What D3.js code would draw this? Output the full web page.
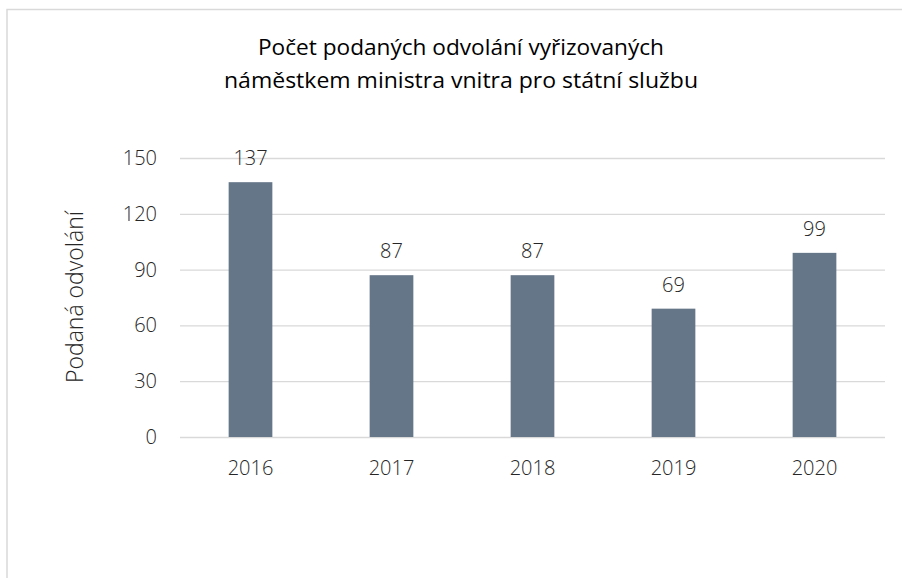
<!DOCTYPE html>
<html>
<head>
<meta charset="utf-8">
<script src="https://cdn.jsdelivr.net/npm/d3@7"></script>
<style>
  body { margin: 0; background: #fff; }
  svg text { font-family: "Open Sans", "Noto Sans", sans-serif; }
</style>
</head>
<body>
<svg id="chart" width="902" height="578"></svg>
<script>
const years = ["2016", "2017", "2018", "2019", "2020"]
const appeals = [137, 87, 87, 69, 99]
const yTicks = [0, 30, 60, 90, 120, 150]
const titleLines = ["Počet podaných odvolání vyřizovaných", "náměstkem ministra vnitra pro státní službu"]
const yLabel = "Podaná odvolání"

const width = 902, height = 578
const margin = { left: 180, right: 17, top: 158, bottom: 141 }
const barColor = "rgb(101,118,136)"
const gridColor = "#d9d9d9"
const textColor = "#262626"

const svg = d3.select("#chart")

// outer chart frame
svg.append("rect")
    .attr("x", 7).attr("y", 9.5)
    .attr("width", 910).attr("height", 600)
    .attr("fill", "none")
    .attr("stroke", "#d9d9d9")
    .attr("stroke-width", 1.5)

// title
svg.append("g").selectAll("text")
    .data(titleLines)
    .enter()
    .append("text")
    .attr("x", 461)
    .attr("y", (d, i) => 55 + i * 33)
    .attr("text-anchor", "middle")
    .attr("font-size", 22)
    .attr("font-weight", 400)
    .attr("textLength", (d, i) => i === 0 ? 406 : 474)
    .attr("lengthAdjust", "spacingAndGlyphs")
    .attr("fill", "#000")
    .text(d => d)

const x = d3.scaleBand()
    .domain(years)
    .range([margin.left, width - margin.right])

const y = d3.scaleLinear()
    .domain([0, 150])
    .range([height - margin.bottom, margin.top])

// gridlines
const yAxis = d3.axisLeft(y)
    .tickValues(yTicks)
    .tickSize(-(width - margin.left - margin.right))
    .tickPadding(23)

const gy = svg.append("g")
    .attr("transform", `translate(${margin.left},0)`)
    .call(yAxis)
gy.select(".domain").remove()
gy.selectAll("line").attr("stroke", gridColor).attr("stroke-width", 1.3)
gy.selectAll("text")
    .attr("font-size", 20)
    .attr("font-weight", 300)
    .attr("fill", textColor)

// bars
const barW = x.bandwidth() * 0.31
svg.append("g")
    .selectAll("rect")
    .data(appeals)
    .enter()
    .append("rect")
    .attr("x", (d, i) => x(years[i]) + x.bandwidth() / 2 - barW / 2)
    .attr("y", d => y(d))
    .attr("width", barW)
    .attr("height", d => y(0) - y(d))
    .attr("fill", barColor)

// value labels
svg.append("g")
    .selectAll("text")
    .data(appeals)
    .enter()
    .append("text")
    .attr("x", (d, i) => x(years[i]) + x.bandwidth() / 2)
    .attr("y", d => y(d) - 17)
    .attr("text-anchor", "middle")
    .attr("font-size", 20)
    .attr("font-weight", 300)
    .attr("fill", textColor)
    .text(d => d)

// x axis labels
const xAxis = d3.axisBottom(x).tickSize(0).tickPadding(24)
const gx = svg.append("g")
    .attr("transform", `translate(0,${height - margin.bottom})`)
    .call(xAxis)
gx.select(".domain").remove()
gx.selectAll("text")
    .attr("font-size", 20)
    .attr("font-weight", 300)
    .attr("fill", textColor)

// y axis title
svg.append("text")
    .attr("transform", "translate(83,297) rotate(-90)")
    .attr("text-anchor", "middle")
    .attr("font-size", 23)
    .attr("font-weight", 300)
    .attr("fill", textColor)
    .text(yLabel)
</script>
</body>
</html>
